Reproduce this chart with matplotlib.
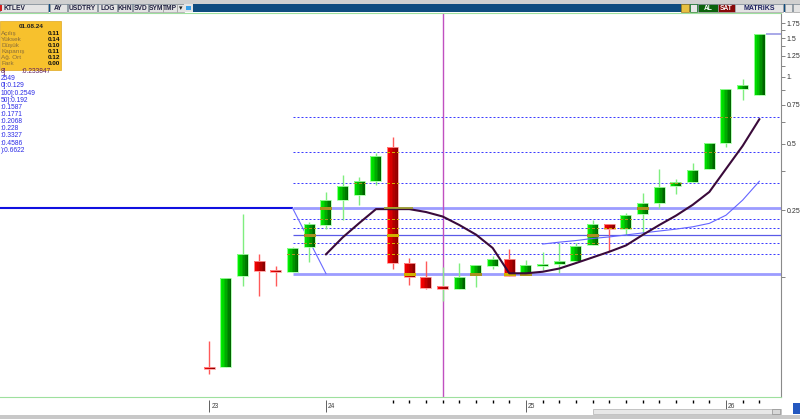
import matplotlib
matplotlib.use("Agg")
import matplotlib.pyplot as plt
from matplotlib.patches import Rectangle
from matplotlib.ticker import NullLocator
import numpy as np

plt.rcParams['font.family'] = ['Liberation Sans', 'DejaVu Sans']

# monthly candles (Jun 2023 .. Mar 2026), log price axis
opens = [0.0484, 0.0489, 0.126, 0.147, 0.1330, 0.1318, 0.1696, 0.214, 0.2786, 0.2916,
         0.3395, 0.481, 0.1445, 0.1245, 0.1134, 0.110, 0.1267, 0.1396, 0.1497, 0.1285,
         0.1395, 0.1440, 0.147, 0.1738, 0.2156, 0.2053, 0.240, 0.270, 0.322, 0.336,
         0.3824, 0.501, 0.8825, 0.829]
highs = [0.064, 0.123, 0.240, 0.158, 0.1396, 0.170, 0.2215, 0.303, 0.360, 0.352,
         0.454, 0.537, 0.152, 0.1475, 0.1386, 0.1436, 0.1415, 0.155, 0.1667, 0.1487,
         0.1616, 0.177, 0.177, 0.2255, 0.2156, 0.2417, 0.298, 0.382, 0.344, 0.409,
         0.501, 0.885, 0.979, 1.56]
lows = [0.0453, 0.0489, 0.113, 0.1025, 0.1137, 0.1318, 0.146, 0.205, 0.225, 0.2636,
        0.325, 0.135, 0.114, 0.110, 0.0973, 0.110, 0.1126, 0.1357, 0.126, 0.1285,
        0.134, 0.1294, 0.1445, 0.1738, 0.1638, 0.193, 0.193, 0.2547, 0.2956, 0.336,
        0.3824, 0.481, 0.787, 0.829]
closes = [0.0480, 0.123, 0.159, 0.1325, 0.1318, 0.168, 0.2156, 0.277, 0.321, 0.3395,
          0.439, 0.1436, 0.125, 0.1107, 0.1096, 0.125, 0.1415, 0.1497, 0.126, 0.1406,
          0.1415, 0.1455, 0.1725, 0.2156, 0.2047, 0.2368, 0.268, 0.319, 0.334, 0.3795,
          0.501, 0.8825, 0.92, 1.56]

# indicator curves
ma_idx = list(range(7, 34))
ma_vals = [0.1577, 0.188, 0.2185, 0.2525, 0.2525, 0.2525, 0.245, 0.2338, 0.214, 0.1936,
           0.1685, 0.1294, 0.1294, 0.1315, 0.136, 0.144, 0.1527, 0.162, 0.173, 0.193,
           0.214, 0.236, 0.264, 0.302, 0.384, 0.488, 0.644]
sig_idx = list(range(20, 34))
sig_vals = [0.1755, 0.179, 0.182, 0.186, 0.189, 0.193, 0.197, 0.201, 0.205, 0.210,
            0.2177, 0.237, 0.2774, 0.3375]

# retracement levels drawn from candle 5
fib_start = 5
fib_end = 7
levels = [0.6622, 0.4586, 0.3327, 0.2549, 0.228, 0.2068, 0.192, 0.1771, 0.1587, 0.129]
level_kind = ['dot', 'dot', 'dot', 'band', 'dot', 'dot', 'solid', 'dot', 'dot', 'band']
base_level = 0.2549
low_level = 0.129
overlap_span = (10.5, 12.2)

cross_idx = 14
year_idx = [0, 7, 19, 31]
year_labels = ["23", "24", "25", "26"]
month_ticks = [11, 12, 13, 14, 15, 16, 17, 18, 20, 21, 22, 23, 24, 25, 26, 27, 28, 29, 30, 32, 33]

ytick_vals = [0.125, 0.25, 0.375, 0.5, 0.625, 0.75, 0.875, 1.0, 1.125, 1.25, 1.375, 1.5, 1.625, 1.75]
ytick_text = ["", "0.25", "", "0.5", "", "0.75", "", "1.", "", "1.25", "", "1.5", "", "1.75"]

info_date = "01.08.24"
info_names = ["Açılış", "Yüksek", "Düşük", "Kapanış", "Ağ. Ort", "Fark"]
info_values = ["0.11", "0.14", "0.10", "0.11", "0.12", "0.00"]
legend_rows = ["8]", "2549", "0]:0.129", "100]:0.2549", "50]:0.192", ":0.1587", ":0.1771",
               ":0.2068", ":0.228", ":0.3327", ":0.4586", "):0.6622"]
legend_first_value = ":0.233847"

fig = plt.figure(figsize=(8, 4.19), dpi=100)
ax = fig.add_axes([0, 22 / 419, 781 / 800, 384 / 419])
ax.set_yscale('log')

def mix(a, b, f):
    a = np.array(matplotlib.colors.to_rgb(a))
    b = np.array(matplotlib.colors.to_rgb(b))
    return tuple(a + (b - a) * f)

# levels
for lv, kind in zip(levels, level_kind):
    if kind == 'dot':
        ax.hlines(lv, fib_start, 40, color='#3c3cff', lw=0.72, linestyles=(0, (2, 2)),
                  zorder=2)
    elif kind == 'solid':
        ax.hlines(lv, fib_start, 40, color='#5a5ae8', lw=0.9, zorder=2)
    else:
        ax.hlines(lv, fib_start, 40, color='#9c9cff', lw=2.0, zorder=2)
ax.hlines(base_level, -20, fib_start, color='#1010e0', lw=1.5, zorder=2)
ax.plot([fib_start, fib_end], [base_level, low_level], color='#6a6aff', lw=0.8, zorder=2)

ax.axvline(cross_idx, color='#c050c0', lw=1.0, zorder=2.5)

# candles
body_w = 0.66
n = 7
for i in range(len(opens)):
    o, h, l, c = opens[i], highs[i], lows[i], closes[i]
    up = c >= o
    lo_b, hi_b = min(o, c), max(o, c)
    if hi_b / lo_b < 1.02:
        mid = np.sqrt(hi_b * lo_b)
        lo_b, hi_b = mid / 1.011, mid * 1.011
    if up:
        wick, c0, c1, edge = '#7fee7f', '#00f000', '#006400', '#a8ffa8'
    else:
        wick, c0, c1, edge = '#ff5a5a', '#ff0000', '#8a0000', '#ff9a9a'
    if i == cross_idx:
        wick = '#8ae68a'
    ax.vlines(i, l, h, color=wick, lw=1.0, zorder=3)
    for k in range(n):
        ax.bar(i - body_w / 2 + (k + 0.5) * body_w / n, hi_b - lo_b, width=body_w / n,
               bottom=lo_b, color=mix(c0, c1, k / (n - 1)), lw=0, zorder=4)
    ax.bar(i, hi_b - lo_b, width=body_w, bottom=lo_b, fill=False, edgecolor=edge, lw=0.6, zorder=5)
    # level lines showing through the bodies
    if i >= fib_start:
        for lv, kind in zip(levels, level_kind):
            if min(o, c) < lv < max(o, c):
                col = '#a89020' if up else '#d0b000'
                ls = (0, (2, 2)) if kind == 'dot' else '-'
                ax.hlines(lv, i - body_w / 2, i + body_w / 2, color=col, lw=0.75,
                          linestyles=ls, antialiased=False, zorder=6)

ax.plot(sig_idx, sig_vals, color='#6464ff', lw=0.8, zorder=7)
ax.plot(ma_idx, ma_vals, color='#3a0a3a', lw=1.5, zorder=7)
ax.hlines(base_level, overlap_span[0], overlap_span[1], color='#a0a030', lw=1.3, zorder=8)
ax.hlines(closes[-1], len(closes) - 1 + 0.4, 40, color='#a8a8e8', lw=1.4, zorder=8)

ax.set_xlim(-12.558, 34.30)
ax.set_ylim(0.03567, 1.9477)

ax.spines['left'].set_visible(False)
ax.spines['top'].set_color('#9ee09e')
ax.spines['bottom'].set_color('#9ee09e')
ax.spines['right'].set_color('#8a8a8a')
for s in ['top', 'bottom', 'right']:
    ax.spines[s].set_linewidth(0.8)

ax.yaxis.tick_right()
ax.set_yticks(ytick_vals)
ax.set_yticklabels(ytick_text)
ax.yaxis.set_minor_locator(NullLocator())
ax.tick_params(axis='y', length=3, width=0.6, color='#707070', labelsize=5,
               labelcolor='#303030', pad=1)
ax.set_xticks([])

xt = ax.get_xaxis_transform()
for i, lab in zip(year_idx, year_labels):
    ax.vlines(i, -0.039, -0.008, color='#606060', lw=0.7, transform=xt, clip_on=False)
    ax.text(i + 0.12, -0.026, lab, transform=xt, fontsize=4.8, color='#404040',
            va='center', ha='left')
for i in month_ticks:
    ax.vlines(i, -0.016, -0.008, color='black', lw=1.0, transform=xt, clip_on=False)

# window chrome and info panel, in pixel coordinates
ov = fig.add_axes([0, 0, 1, 1], zorder=10)
ov.set_xlim(0, 800)
ov.set_ylim(419, 0)
ov.axis('off')
ov.patch.set_alpha(0)

ov.add_patch(Rectangle((0, 0), 800, 4, fc='#d0d0d0', ec='none'))
ov.add_patch(Rectangle((0, 4), 800, 8.5, fc='#0f4c80', ec='none'))
buttons = [("KTLEV", 0, 48), ("AY", 50, 67), ("USDTRY", 68, 97), ("LOG", 98, 117),
           ("KHN", 118, 132), ("SVD", 133, 148), ("SYM", 149, 163), ("TMP", 163, 177)]
for lab, x0, x1 in buttons:
    ov.add_patch(Rectangle((x0, 4.5), x1 - x0, 7.5, fc='#e4e4e4', ec='#a0a0a0', lw=0.5))
    if lab == "KTLEV":
        ov.text(x0 + 3, 8.4, lab, fontsize=4.8, fontweight='bold', color='#202040', va='center')
    else:
        ov.text((x0 + x1) / 2, 8.4, lab, fontsize=4.8, fontweight='bold', color='#202040',
                va='center', ha='center')
ov.add_patch(Rectangle((0, 5), 2, 6, fc='#d02020', ec='none'))
ov.add_patch(Rectangle((177, 4.5), 7, 7.5, fc='#e4e4e4', ec='#a0a0a0', lw=0.5))
ov.text(180.5, 8.6, "▾", fontsize=5, ha='center', va='center', color='#202020')
ov.add_patch(Rectangle((184, 4.5), 9, 7.5, fc='#e4e4e4', ec='none'))
ov.add_patch(Rectangle((186, 6), 5, 4.5, fc='#3aa0e8', ec='none'))
ov.add_patch(Rectangle((681, 4.5), 7.5, 7.5, fc='#e8c040', ec='#a08020', lw=0.5))
ov.add_patch(Rectangle((689.5, 4.5), 7.5, 7.5, fc='#e8e8e8', ec='#208020', lw=0.5))
ov.add_patch(Rectangle((698, 4.5), 20, 7.5, fc='#0b620b', ec='#a0a0a0', lw=0.5))
ov.text(708, 8.4, "AL", fontsize=4.8, fontweight='bold', color='white', ha='center', va='center')
ov.add_patch(Rectangle((718, 4.5), 17, 7.5, fc='#880808', ec='#a0a0a0', lw=0.5))
ov.text(726.5, 8.4, "SAT", fontsize=4.8, fontweight='bold', color='white', ha='center', va='center')
ov.add_patch(Rectangle((735, 4.5), 48, 7.5, fc='#e4e4e4', ec='#a0a0a0', lw=0.5))
ov.text(759, 8.4, "MATRiKS", fontsize=5, fontweight='bold', color='#1c2060', ha='center', va='center')
ov.add_patch(Rectangle((785, 4.5), 7, 7.5, fc='#e4e4e4', ec='#a0a0a0', lw=0.5))
ov.add_patch(Rectangle((793, 4.5), 7, 7.5, fc='#e4e4e4', ec='#a0a0a0', lw=0.5))

# bottom strip
ov.add_patch(Rectangle((593, 409), 188, 5, fc='#e8e8e8', ec='#b0b0b0', lw=0.5))
ov.add_patch(Rectangle((772, 409), 8, 5, fc='#d8d8d8', ec='#909090', lw=0.5))
ov.add_patch(Rectangle((0, 415), 800, 4, fc='#c8c8c8', ec='none'))
ov.add_patch(Rectangle((793, 403), 7, 11, fc='#2458c0', ec='none'))

# info box
ov.add_patch(Rectangle((0, 21.5), 61, 48.5, fc='#f7c12d', ec='#e0a820', lw=0.5))
ov.text(31, 26.7, info_date, fontsize=4.6, fontweight='bold', color='#202020', ha='center', va='center')
row_y = [33.3, 39.3, 45.2, 51.2, 57.3, 63.3]
for y, nm, val in zip(row_y, info_names, info_values):
    ov.text(1, y, nm, fontsize=4.6, color='#8a6e3a', ha='left', va='center')
    ov.text(60, y, val, fontsize=4.6, fontweight='bold', color='#101010', ha='right', va='center')

for k, row in enumerate(legend_rows):
    y = 71.7 + 7.13 * k
    col = '#602060' if k == 0 else '#2a2ae6'
    ov.text(0.5, y, row, fontsize=4.8, color=col, ha='left', va='center')
ov.text(21.7, 71.7, legend_first_value, fontsize=4.8, color='#602060', ha='left', va='center')

fig.savefig('out.png', dpi=100)
